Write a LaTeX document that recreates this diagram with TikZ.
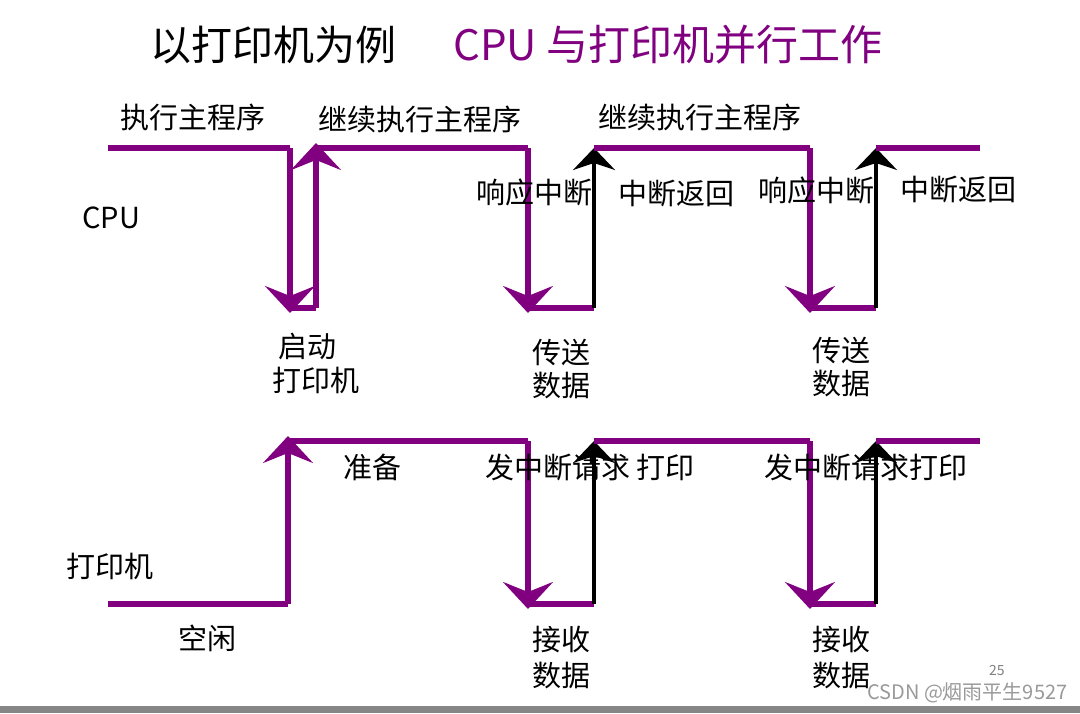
\documentclass[tikz,border=0pt]{standalone}
\usepackage{fontspec}
\setmainfont{Noto Sans CJK SC}
\usetikzlibrary{arrows.meta}
\definecolor{wavepurple}{HTML}{800080}
\begin{document}
\begin{tikzpicture}[
			x=1pt, y=-1pt,
			wave/.style={draw=wavepurple, line width=6pt},
			wavedown/.style={wave, shorten >=-5pt, -{Stealth[length=27pt,width=50pt,inset=10pt]}},
			intret/.style={draw=black, line width=4pt, -{Stealth[length=22pt,width=42pt,inset=7pt]}},
			lbl/.style={anchor=west, inner sep=0pt, font=\fontsize{29}{34}\selectfont},
			]
			\useasboundingbox (0,0) rectangle (1080,713);
			\fill[gray!95] (0,706) rectangle (1080,713);
			% title
			\node [anchor=west, inner sep=0pt, font=\fontsize{41}{48}\selectfont] (ttl) at (150,45) {以打印机为例};
			\node [anchor=west, inner sep=0pt, text=wavepurple, font=\fontsize{42}{48}\selectfont] (ttr) at (453,45) {CPU 与打印机并行工作};
			% CPU wave
			\coordinate (c0) at (108,148); \coordinate (c1) at (290,148);
			\coordinate (c2) at (290,308); \coordinate (c3) at (316,308);
			\coordinate (c4) at (316,148); \coordinate (c5) at (528,148);
			\coordinate (c6) at (528,308); \coordinate (c7) at (594,308);
			\coordinate (c8) at (594,148); \coordinate (c9) at (810,148);
			\coordinate (c10) at (810,308); \coordinate (c11) at (876,308);
			\coordinate (c12) at (876,148); \coordinate (c13) at (980,148);
			\path [wave] (c0) -- (c1);
			\path [wavedown] (c1) -- (c2);
			\path [wave] (c2) -- (c3);
			\path [wavedown] (c3) -- (c4);
			\path [wave] (c4) -- (c5);
			\path [wavedown] (c5) -- (c6);
			\path [wave] (c6) -- (c7);
			\path [intret] (c7) -- (c8);
			\path [wave] (c8) -- (c9);
			\path [wavedown] (c9) -- (c10);
			\path [wave] (c10) -- (c11);
			\path [intret] (c11) -- (c12);
			\path [wave] (c12) -- (c13);
			% printer wave
			\coordinate (p0) at (108,604); \coordinate (p1) at (288,604);
			\coordinate (p2) at (288,441); \coordinate (p3) at (528,441);
			\coordinate (p4) at (528,604); \coordinate (p5) at (594,604);
			\coordinate (p6) at (594,441); \coordinate (p7) at (810,441);
			\coordinate (p8) at (810,604); \coordinate (p9) at (876,604);
			\coordinate (p10) at (876,441); \coordinate (p11) at (980,441);
			\path [wave] (p0) -- (p1);
			\path [wavedown] (p1) -- (p2);
			\path [wave] (p2) -- (p3);
			\path [wavedown] (p3) -- (p4);
			\path [wave] (p4) -- (p5);
			\path [intret] (p5) -- (p6);
			\path [wave] (p6) -- (p7);
			\path [wavedown] (p7) -- (p8);
			\path [wave] (p8) -- (p9);
			\path [intret] (p9) -- (p10);
			\path [wave] (p10) -- (p11);
			% labels
			\node [lbl] (main) at (120,117) {执行主程序};
			\node [lbl] (goon1) at (318,119) {继续执行主程序};
			\node [lbl] (goon2) at (598,117) {继续执行主程序};
			\node [lbl] (cpu) at (82,218) {CPU};
			\node [lbl] (ack1) at (476,192) {响应中断};
			\node [lbl] (ret1) at (618,194) {中断返回};
			\node [lbl] (ack2) at (758,190) {响应中断};
			\node [lbl] (ret2) at (900,190) {中断返回};
			\node [lbl] (start1) at (278,346) {启动};
			\node [lbl] (start2) at (272,380) {打印机};
			\node [lbl] (send1) at (532,352) {传送};
			\node [lbl] (send1b) at (532,386) {数据};
			\node [lbl] (send2) at (812,350) {传送};
			\node [lbl] (send2b) at (812,384) {数据};
			\node [lbl] (prep) at (343,467) {准备};
			\node [lbl] (irq1) at (485,467) {发中断请求 打印};
			\node [lbl] (irq2) at (764,467) {发中断请求打印};
			\node [lbl] (prn) at (66,566) {打印机};
			\node [lbl] (idle) at (178,638) {空闲};
			\node [lbl] (recv1) at (532,639) {接收};
			\node [lbl] (recv1b) at (532,675) {数据};
			\node [lbl] (recv2) at (812,639) {接收};
			\node [lbl] (recv2b) at (812,675) {数据};
			\node [anchor=west, inner sep=0pt, text=gray, font=\fontsize{14}{16}\selectfont] (pg) at (989,670) {25};
			\node [anchor=west, inner sep=0pt, text=gray!80, font=\fontsize{20}{23}\selectfont] (mark) at (867,693) {CSDN @烟雨平生9527};
		\end{tikzpicture}
\end{document}
